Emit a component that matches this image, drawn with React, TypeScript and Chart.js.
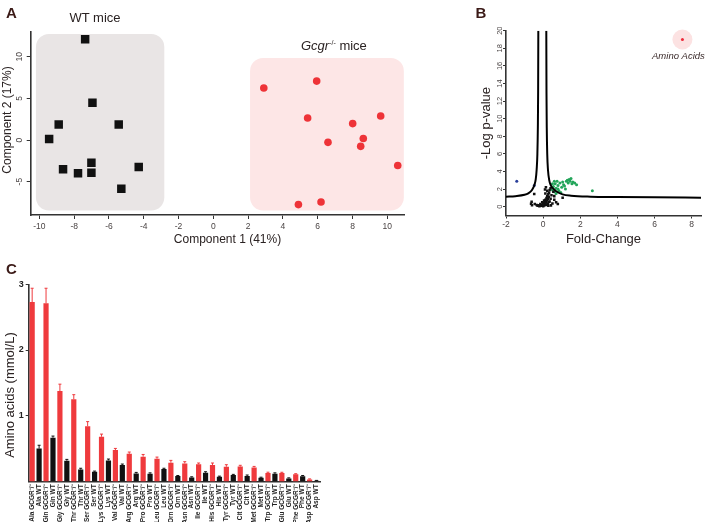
import React, { useEffect, useRef } from 'react';
import { Chart, registerables } from 'chart.js';

Chart.register(...registerables);

const FONT = '"Liberation Sans", Arial, Helvetica, sans-serif';
const INK = '#2a2222';
const TICK_INK = '#4a4444';
const AXIS_INK = '#333333';
const LETTER_INK = '#3b1a17';

// ---------- Panel A: PCA scores ----------
const wtComp1 = [-7.37, -6.95, -8.89, -5.44, -9.44, -7.01, -8.64, -7.78, -7.01, -4.29, -5.29];
const wtComp2 = [12.1, 4.46, 1.85, 1.85, 0.12, -2.73, -3.52, -4.0, -3.92, -3.25, -5.86];
const koComp1 = [2.9, 5.94, 5.42, 8.01, 6.59, 4.89, 6.19, 9.62, 8.62, 8.47, 10.6];
const koComp2 = [6.24, 7.07, 2.65, 1.97, -0.28, -7.75, -7.44, 2.88, 0.19, -0.76, -3.05];
const pcaXTicks = [-10, -8, -6, -4, -2, 0, 2, 4, 6, 8, 10];
const pcaYTicks = [-5, 0, 5, 10];
const wtClusterX = [-10.2, -2.82];
const wtClusterY = [-8.47, 12.73];
const koClusterX = [2.11, 10.95];
const koClusterY = [-8.47, 9.85];

// ---------- Panel B: volcano ----------
const curveLeftX = [-2, -1.5, -1.0, -0.8, -0.6, -0.47, -0.4, -0.35, -0.31, -0.285, -0.27, -0.26];
const curveLeftY = [1.14, 1.2, 1.35, 1.52, 1.9, 2.47, 3.1, 4.2, 6, 9, 13, 20];
const curveRightX = [0.17, 0.18, 0.195, 0.22, 0.26, 0.33, 0.42, 0.52, 0.7, 1.05, 1.5, 2.55, 4, 6, 8.5];
const curveRightY = [20, 13, 9, 6, 4.2, 3.0, 2.4, 2.1, 1.75, 1.4, 1.25, 1.14, 1.1, 1.06, 1.03];
const nsFoldChange = [-0.65, -0.6, -0.48, -0.45, -0.35, -0.3, -0.25, -0.2, -0.15, -0.1, -0.05, 0, 0.02, 0.05, 0.08, 0.1, 0.12, 0.15, 0.18, 0.2, 0.22, 0.25, 0.28, 0.3, 0.32, 0.35, 0.4, 0.45, 0.5, 0.55, 0.6, 0.7, 0.79, 1.05, 0.15, 0.25, 0.35, 0.1, 0.2, 0.3, 0.05, -0.05, 0.0, 0.4, 0.1, 0.15, 0.42, 0.6, 0.22, 0.12, -0.62, 0.28];
const nsLogP = [0.33, 0.17, 1.44, 0.3, 0.2, 0.1, 0.15, 0.05, 0.3, 0.1, 0.2, 0.05, 0.4, 0.15, 0.6, 0.3, 0.8, 0.5, 1.0, 0.7, 1.2, 0.9, 1.4, 1.1, 1.6, 0.6, 0.9, 1.3, 0.36, 1.7, 0.8, 0.5, 0.31, 1.02, 0.2, 0.35, 1.9, 0.5, 0.25, 0.55, 0.7, 0.5, 0.3, 2.1, 1.95, 2.2, 0.15, 1.2, 1.8, 1.5, 0.57, 0.1];
const upFoldChange = [0.5, 0.55, 0.6, 0.65, 0.7, 0.75, 0.8, 0.85, 0.9, 1.0, 1.05, 1.1, 1.2, 1.25, 1.3, 1.35, 1.4, 1.45, 1.5, 1.55, 1.6, 1.7, 1.8, 0.95, 0.6, 0.7, 2.65, 1.15, 0.5, 0.8];
const upLogP = [1.9, 2.3, 1.7, 2.6, 2.1, 2.9, 2.4, 1.8, 2.7, 2.2, 2.8, 2.5, 2.0, 2.9, 3.0, 2.7, 3.1, 2.9, 3.2, 2.6, 2.8, 2.7, 2.5, 1.6, 2.9, 1.5, 1.8, 2.35, 2.6, 2.0];
const downFoldChange = [-1.42, -0.48];
const downLogP = [2.9, 2.4];
const aaFoldChange = [7.5];
const aaLogP = [19];
const volXTicks = [-2, 0, 2, 4, 6, 8];
const volYTicks = [0, 2, 4, 6, 8, 10, 12, 14, 16, 18, 20];

// ---------- Panel C: amino acid concentrations (mmol/L) ----------
const aminoAcids = ['Ala', 'Gln', 'Gly', 'Thr', 'Ser', 'Lys', 'Val', 'Arg', 'Pro', 'Leu', 'Orn', 'Asn', 'Ile', 'His', 'Tyr', 'Cit', 'Met', 'Trp', 'Glu', 'Phe', 'Asp'];
const gcgrMean = [2.73, 2.71, 1.375, 1.25, 0.84, 0.68, 0.477, 0.42, 0.376, 0.345, 0.284, 0.274, 0.26, 0.25, 0.223, 0.225, 0.213, 0.127, 0.127, 0.107, 0.03];
const gcgrErr = [0.21, 0.23, 0.105, 0.07, 0.07, 0.04, 0.025, 0.027, 0.034, 0.025, 0.036, 0.026, 0.02, 0.03, 0.031, 0.02, 0.015, 0.013, 0.012, 0.01, 0.008];
const wtMean = [0.5, 0.665, 0.315, 0.18, 0.147, 0.32, 0.25, 0.12, 0.117, 0.188, 0.081, 0.06, 0.132, 0.07, 0.096, 0.083, 0.056, 0.117, 0.046, 0.08, 0.01];
const wtErr = [0.05, 0.025, 0.02, 0.02, 0.01, 0.02, 0.014, 0.017, 0.013, 0.012, 0.009, 0.01, 0.015, 0.01, 0.011, 0.014, 0.008, 0.013, 0.008, 0.01, 0.005];
const aaYTicks = [1, 2, 3];

const RED = '#ef3a3d';
const BLACK = '#111111';

const barLabels = aminoAcids.flatMap((a) => [`${a} GCGR\u207B/\u207B`, `${a} WT`]);
const barValues = aminoAcids.flatMap((_, i) => [gcgrMean[i], wtMean[i]]);
const barErrors = aminoAcids.flatMap((_, i) => [gcgrErr[i], wtErr[i]]);
const barColors = aminoAcids.flatMap(() => [RED, BLACK]);

const zip = (xs: number[], ys: number[]) => xs.map((x, i) => ({ x, y: ys[i] }));
const fixedTicks = (values: number[]) => (scale: any) => {
  scale.ticks = values.map((value) => ({ value }));
};

function rotatedYTickLabels(x: number, font: string, color: string) {
  return {
    id: 'rotatedYTickLabels',
    afterDraw(chart: any) {
      const s = chart.scales.y;
      const ctx = chart.ctx;
      ctx.save();
      ctx.font = font;
      ctx.fillStyle = color;
      ctx.textAlign = 'center';
      ctx.textBaseline = 'middle';
      for (const t of s.ticks) {
        ctx.save();
        ctx.translate(x, s.getPixelForValue(t.value));
        ctx.rotate(-Math.PI / 2);
        ctx.fillText(String(t.value), 0, 0);
        ctx.restore();
      }
      ctx.restore();
    },
  };
}

function axisTitles(titles: { text: string; x: number; y: number; rotate: boolean; font: string }[]) {
  return {
    id: 'axisTitles',
    afterDraw(chart: any) {
      const ctx = chart.ctx;
      for (const t of titles) {
        ctx.save();
        ctx.fillStyle = INK;
        ctx.font = t.font;
        ctx.textAlign = 'center';
        ctx.textBaseline = 'middle';
        ctx.translate(t.x, t.y);
        if (t.rotate) ctx.rotate(-Math.PI / 2);
        ctx.fillText(t.text, 0, 0);
        ctx.restore();
      }
    },
  };
}

const axisGrid = { display: true, drawOnChartArea: false, drawTicks: true, tickLength: 4, color: AXIS_INK, lineWidth: 1 };
const axisBorder = { display: true, color: AXIS_INK, width: 1.6 };

function makePca(canvas: HTMLCanvasElement) {
  const clusters = {
    id: 'clusters',
    beforeDatasetsDraw(chart: any) {
      const { x, y } = chart.scales;
      const ctx = chart.ctx;
      const boxes: [number[], number[], string][] = [
        [wtClusterX, wtClusterY, '#e9e5e5'],
        [koClusterX, koClusterY, '#fde6e6'],
      ];
      ctx.save();
      for (const [bx, by, color] of boxes) {
        const l = x.getPixelForValue(bx[0]);
        const r = x.getPixelForValue(bx[1]);
        const t = y.getPixelForValue(by[1]);
        const b = y.getPixelForValue(by[0]);
        ctx.fillStyle = color;
        ctx.beginPath();
        ctx.roundRect(l, t, r - l, b - t, 13);
        ctx.fill();
      }
      ctx.restore();
    },
  };
  return new Chart(canvas, {
    type: 'scatter',
    data: {
      datasets: [
        { label: 'WT mice', data: zip(wtComp1, wtComp2), pointStyle: 'rect', pointRadius: 6, backgroundColor: BLACK, borderWidth: 0 },
        { label: 'Gcgr-/- mice', data: zip(koComp1, koComp2), pointStyle: 'circle', pointRadius: 3.8, backgroundColor: '#ee3338', borderWidth: 0 },
      ],
    } as any,
    options: {
      animation: false,
      responsive: false,
      layout: { padding: { top: 31.7, right: 15.3, left: 0, bottom: 0 } },
      plugins: { legend: { display: false }, tooltip: { enabled: false } },
      scales: {
        x: {
          type: 'linear', min: -10.5, max: 11,
          afterBuildTicks: fixedTicks(pcaXTicks),
          afterFit: (s: any) => { s.height = 35; },
          grid: axisGrid, border: axisBorder,
          ticks: { font: { family: FONT, size: 8.5 }, color: TICK_INK, padding: 2.5, maxRotation: 0, autoSkip: false },
          title: { display: false },
        },
        y: {
          type: 'linear', min: -9, max: 13,
          afterBuildTicks: fixedTicks(pcaYTicks),
          afterFit: (s: any) => { s.width = 30.7; },
          grid: axisGrid, border: axisBorder,
          ticks: { display: false },
          title: { display: false },
        },
      },
    } as any,
    plugins: [
      clusters,
      rotatedYTickLabels(20, `8.5px ${FONT}`, TICK_INK),
      axisTitles([
        { text: 'Component 1 (41%)', x: 227.5, y: 239.3, rotate: false, font: `12px ${FONT}` },
        { text: 'Component 2 (17%)', x: 8, y: 120, rotate: true, font: `12px ${FONT}` },
      ]),
    ],
  });
}

function makeVolcano(canvas: HTMLCanvasElement) {
  const halo = {
    id: 'halo',
    beforeDatasetsDraw(chart: any) {
      const { x, y } = chart.scales;
      const ctx = chart.ctx;
      ctx.save();
      ctx.fillStyle = '#fce2e2';
      ctx.beginPath();
      ctx.arc(x.getPixelForValue(aaFoldChange[0]), y.getPixelForValue(aaLogP[0]), 10, 0, Math.PI * 2);
      ctx.fill();
      ctx.restore();
    },
    afterDatasetsDraw(chart: any) {
      const { x, y } = chart.scales;
      const ctx = chart.ctx;
      ctx.save();
      ctx.fillStyle = '#3a2a2a';
      ctx.font = `italic 9.5px ${FONT}`;
      ctx.textAlign = 'center';
      ctx.textBaseline = 'middle';
      ctx.fillText('Amino Acids', x.getPixelForValue(aaFoldChange[0]) - 4, y.getPixelForValue(aaLogP[0]) + 16.5);
      ctx.restore();
    },
  };
  return new Chart(canvas, {
    type: 'scatter',
    data: {
      datasets: [
        { data: zip(curveLeftX, curveLeftY), showLine: true, borderColor: '#000', borderWidth: 2, pointRadius: 0, cubicInterpolationMode: 'monotone' },
        { data: zip(curveRightX, curveRightY), showLine: true, borderColor: '#000', borderWidth: 2, pointRadius: 0, cubicInterpolationMode: 'monotone' },
        { data: zip(nsFoldChange, nsLogP), pointStyle: 'rect', pointRadius: 1.8, backgroundColor: BLACK, borderWidth: 0 },
        { data: zip(upFoldChange, upLogP), pointRadius: 1.5, backgroundColor: '#23a55a', borderWidth: 0 },
        { data: zip(downFoldChange, downLogP), pointRadius: 1.5, backgroundColor: '#2a3f9a', borderWidth: 0 },
        { data: zip(aaFoldChange, aaLogP), pointRadius: 1.5, backgroundColor: '#ee2a3a', borderWidth: 0 },
      ],
    } as any,
    options: {
      animation: false,
      responsive: false,
      layout: { padding: { top: 30.7, right: 0.5, left: 0, bottom: 0 } },
      plugins: { legend: { display: false }, tooltip: { enabled: false } },
      scales: {
        x: {
          type: 'linear', min: -2, max: 8.5,
          afterBuildTicks: fixedTicks(volXTicks),
          afterFit: (s: any) => { s.height = 34.5; },
          grid: { ...axisGrid, tickLength: 3 }, border: axisBorder,
          ticks: { font: { family: FONT, size: 8.5 }, color: TICK_INK, padding: 1.5, maxRotation: 0, autoSkip: false },
          title: { display: true, text: 'Fold-Change', font: { family: FONT, size: 13 }, color: INK, padding: { top: 0, bottom: 2.9 } },
        },
        y: {
          type: 'linear', min: -1, max: 20,
          afterBuildTicks: fixedTicks(volYTicks),
          afterFit: (s: any) => { s.width = 66; },
          grid: { ...axisGrid, tickLength: 3 }, border: axisBorder,
          ticks: { display: false },
          title: { display: true, text: '-Log p-value', font: { family: FONT, size: 13 }, color: INK, padding: { top: 38.2, bottom: 0 } },
        },
      },
    } as any,
    plugins: [halo, rotatedYTickLabels(59.5, `7.5px ${FONT}`, TICK_INK)],
  });
}

function makeBars(canvas: HTMLCanvasElement) {
  const errorBars = {
    id: 'errorBars',
    afterDatasetsDraw(chart: any) {
      const meta = chart.getDatasetMeta(0);
      const y = chart.scales.y;
      const ctx = chart.ctx;
      ctx.save();
      ctx.lineWidth = 1;
      meta.data.forEach((bar: any, i: number) => {
        const top = y.getPixelForValue(barValues[i] + barErrors[i]);
        ctx.strokeStyle = barColors[i];
        ctx.beginPath();
        ctx.moveTo(bar.x, bar.y);
        ctx.lineTo(bar.x, top);
        ctx.moveTo(bar.x - 1.5, top);
        ctx.lineTo(bar.x + 1.5, top);
        ctx.stroke();
      });
      ctx.restore();
    },
  };
  return new Chart(canvas, {
    type: 'bar',
    data: {
      labels: barLabels,
      datasets: [
        { data: barValues, backgroundColor: barColors, borderWidth: 0, barPercentage: 0.75, categoryPercentage: 1 },
      ],
    },
    options: {
      animation: false,
      responsive: false,
      layout: { padding: { top: 14.3, right: 20, left: 0, bottom: 0 } },
      plugins: { legend: { display: false }, tooltip: { enabled: false } },
      scales: {
        x: {
          afterFit: (s: any) => { s.height = 40.6; },
          grid: { display: false, drawTicks: false },
          border: axisBorder,
          ticks: { font: { family: FONT, size: 6.5, weight: 'bold' }, color: '#222', padding: 3, minRotation: 90, maxRotation: 90, autoSkip: false },
        },
        y: {
          min: 0, max: 3,
          afterBuildTicks: fixedTicks(aaYTicks),
          afterFit: (s: any) => { s.width = 28.7; },
          grid: { ...axisGrid, tickLength: 3 }, border: axisBorder,
          ticks: { font: { family: FONT, size: 9, weight: 'bold' }, color: '#222', padding: 2 },
        },
      },
    } as any,
    plugins: [
      errorBars,
      axisTitles([{ text: 'Amino acids (mmol/L)', x: 10, y: 125, rotate: true, font: `13px ${FONT}` }]),
    ],
  });
}

function ChartCanvas({ make, left, top, width, height }: { make: (c: HTMLCanvasElement) => Chart; left: number; top: number; width: number; height: number }) {
  const ref = useRef<HTMLCanvasElement>(null);
  useEffect(() => {
    const chart = make(ref.current as HTMLCanvasElement);
    return () => chart.destroy();
  }, []);
  return <canvas ref={ref} width={width} height={height} style={{ position: 'absolute', left, top, width, height }} />;
}

function Text({ x, y, children, style }: { x: number; y: number; children: any; style?: any }) {
  return (
    <div style={{ position: 'absolute', left: x, top: y, transform: 'translate(-50%, -50%)', lineHeight: 1, whiteSpace: 'nowrap', fontFamily: FONT, color: INK, ...style }}>
      {children}
    </div>
  );
}

export default function App() {
  return (
    <div style={{ position: 'absolute', left: 0, top: 0, width: 705, height: 522, background: '#fff', overflow: 'hidden' }}>
      <ChartCanvas make={makePca} left={0} top={0} width={420} height={250} />
      <ChartCanvas make={makeVolcano} left={440} top={0} width={265} height={250} />
      <ChartCanvas make={makeBars} left={0} top={270} width={340} height={252} />
      <Text x={11.5} y={12} style={{ fontSize: 15, fontWeight: 'bold', color: LETTER_INK }}>A</Text>
      <Text x={481} y={12} style={{ fontSize: 15, fontWeight: 'bold', color: LETTER_INK }}>B</Text>
      <Text x={11.5} y={268} style={{ fontSize: 15, fontWeight: 'bold', color: LETTER_INK }}>C</Text>
      <Text x={95} y={16.5} style={{ fontSize: 13 }}>WT mice</Text>
      <div style={{ position: 'absolute', left: 301, top: 45, transform: 'translateY(-50%)', lineHeight: 1, whiteSpace: 'nowrap', fontFamily: FONT, color: INK, fontSize: 13 }}>
        <span style={{ fontStyle: 'italic' }}>Gcgr</span>
        <span style={{ fontSize: 7, position: 'relative', top: -5 }}>-/-</span> mice
      </div>
    </div>
  );
}
